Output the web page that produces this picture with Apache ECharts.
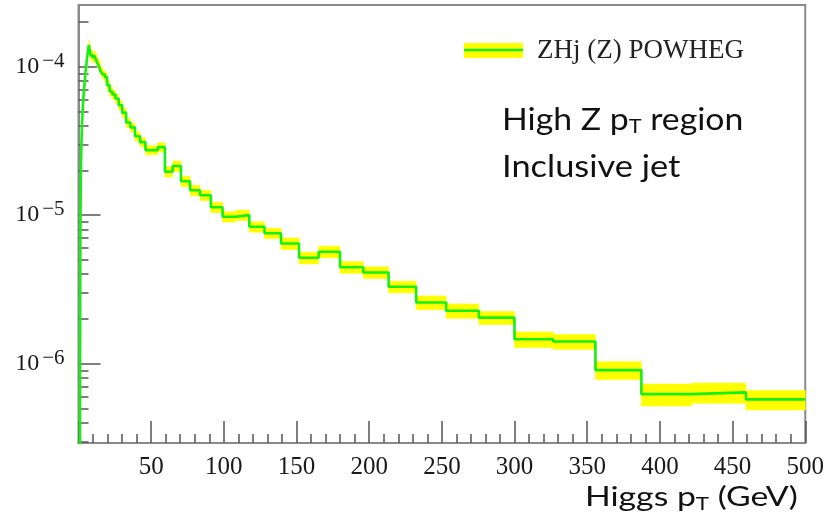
<!DOCTYPE html>
<html>
<head>
<meta charset="utf-8">
<script src="https://cdn.jsdelivr.net/npm/echarts@6/dist/echarts.min.js"></script>
<style>
  html, body { margin: 0; padding: 0; background: #ffffff; }
  #chart { width: 827px; height: 524px; }
</style>
</head>
<body>
<div id="chart"></div>
<script>
// Higgs pT bin edges (GeV), log-spaced
const binEdges = [1.00, 1.09, 1.18, 1.29, 1.40, 1.53, 1.66, 1.81, 1.97, 2.15,
  2.34, 2.55, 2.77, 3.02, 3.29, 3.58, 3.90, 4.24, 4.62, 5.03,
  5.48, 5.97, 6.50, 7.07, 7.70, 8.39, 9.13, 9.94, 10.83, 11.79,
  12.84, 13.98, 15.22, 16.57, 18.05, 19.65, 21.40, 23.30, 25.37, 27.63,
  30.08, 32.76, 35.67, 38.84, 42.29, 46.05, 50.14, 54.60, 59.46, 64.74,
  70.50, 76.77, 83.60, 91.03, 99.12, 107.93, 117.53, 127.98, 139.36, 151.75,
  165.24, 179.93, 195.92, 213.34, 232.31, 252.96, 275.45, 299.94, 326.60, 355.64,
  387.26, 421.69, 459.18, 500];

// ZHj (Z) POWHEG prediction per bin
const xsec = [2.6e-7, 9.0e-7, 2.6e-6, 6.0e-6, 1.0e-5, 1.45e-5, 1.9e-5, 2.4e-5, 2.9e-5, 3.4e-5,
  3.9e-5, 4.4e-5, 4.9e-5, 5.4e-5, 6.0e-5, 6.6e-5, 7.2e-5, 7.9e-5, 8.7e-5, 9.6e-5,
  1.05e-4, 1.16e-4, 1.28e-4, 1.40e-4, 1.30e-4, 1.18e-4, 1.20e-4, 1.14e-4, 1.19e-4, 1.13e-4,
  1.06e-4, 1.01e-4, 9.3e-5, 8.9e-5, 8.5e-5, 7.5e-5, 6.8e-5, 6.5e-5, 6.1e-5, 5.5e-5,
  4.9e-5, 4.2e-5, 3.9e-5, 3.4e-5, 3.1e-5, 2.74e-5, 2.74e-5, 2.87e-5, 1.96e-5, 2.14e-5,
  1.69e-5, 1.47e-5, 1.36e-5, 1.13e-5, 9.75e-6, 1.0e-5, 8.34e-6, 7.55e-6, 6.44e-6, 5.16e-6,
  5.66e-6, 4.46e-6, 4.11e-6, 3.29e-6, 2.58e-6, 2.27e-6, 2.04e-6, 1.46e-6, 1.41e-6, 9.04e-7,
  6.23e-7, 6.40e-7, 5.74e-7];

// relative half-width of the uncertainty band per bin
const relErr = [0.07, 0.07, 0.07, 0.07, 0.07, 0.07, 0.07, 0.07, 0.07, 0.07,
  0.07, 0.07, 0.07, 0.07, 0.07, 0.07, 0.07, 0.07, 0.07, 0.07,
  0.07, 0.07, 0.07, 0.07, 0.07, 0.07, 0.07, 0.07, 0.07, 0.07,
  0.07, 0.07, 0.07, 0.07, 0.07, 0.07, 0.07, 0.07, 0.07, 0.07,
  0.07, 0.07, 0.07, 0.07, 0.07, 0.07, 0.07, 0.07, 0.08, 0.08,
  0.08, 0.08, 0.08, 0.08, 0.08, 0.08, 0.08, 0.08, 0.09, 0.09,
  0.09, 0.09, 0.09, 0.09, 0.105, 0.11, 0.10, 0.12, 0.115, 0.137,
  0.168, 0.155, 0.15];

const yMajorTicks = [1e-6, 1e-5, 1e-4];
const yMinorTicks = [3e-7, 4e-7, 5e-7, 6e-7, 7e-7, 8e-7, 9e-7,
  2e-6, 3e-6, 4e-6, 5e-6, 6e-6, 7e-6, 8e-6, 9e-6,
  2e-5, 3e-5, 4e-5, 5e-5, 6e-5, 7e-5, 8e-5, 9e-5, 2e-4];

const seriesName = 'ZHj (Z) POWHEG';
const yMin = 2.92e-7, yMax = 2.6e-4;

// step outline: each bin's value held from its low edge to its high edge
const stepPoints = xsec.map((v, i) => [binEdges[i], v]);
stepPoints.push([binEdges[binEdges.length - 1], xsec[xsec.length - 1]]);

// band rectangles: [lowEdge, highEdge, lower, upper]
const bandData = xsec.map((v, i) => [binEdges[i], binEdges[i + 1], v * (1 - relErr[i]), v * (1 + relErr[i])]);

const GREEN = '#14f014';
const YELLOW = '#ffff00';
const TICK = '#555555';
const FRAME = '#8a8a8a';
const serif = '"Liberation Serif", "DejaVu Serif", serif';
const sans = 'Lato, "Open Sans", sans-serif';

function powerLabel(v) {
  const e = Math.round(Math.log10(v));
  return '{b|10}{s|' + String(e).replace('-', '\u2212') + '}';
}

const chart = echarts.init(document.getElementById('chart'), null, { renderer: 'canvas' });

chart.setOption({
  animation: false,
  backgroundColor: '#ffffff',
  grid: {
    left: 78.5, right: 21, top: 5, bottom: 81,
    show: true, borderColor: FRAME, borderWidth: 2, backgroundColor: 'transparent'
  },
  legend: {
    left: 464, top: 37, padding: 0,
    itemWidth: 59, itemHeight: 15,
    data: [{ name: seriesName, icon: 'rect', itemStyle: { color: YELLOW } }],
    textStyle: { fontFamily: serif, fontSize: 27, lineHeight: 15, color: '#222', padding: [2, 0, 0, 9] },
    selectedMode: false
  },
  xAxis: {
    type: 'value', min: 0, max: 500, interval: 50,
    axisLine: { show: true, onZero: false, lineStyle: { color: FRAME, width: 2 } },
    axisTick: { show: true, inside: true, length: 22, lineStyle: { color: TICK, width: 1.5 } },
    minorTick: { show: true, splitNumber: 5, length: 9, lineStyle: { color: TICK, width: 1.5 } },
    axisLabel: {
      margin: 12, fontFamily: serif, fontSize: 25, color: '#1a1a1a',
      formatter: v => (v === 0 ? '' : String(v))
    },
    splitLine: { show: false }
  },
  yAxis: [
    {
      type: 'log', logBase: 10, min: yMin, max: yMax,
      axisLine: { show: true, lineStyle: { color: FRAME, width: 2 } },
      axisTick: { show: true, inside: true, length: 22, customValues: yMajorTicks, lineStyle: { color: TICK, width: 1.5 } },
      axisLabel: {
        customValues: yMajorTicks, margin: 14, color: '#1a1a1a',
        formatter: powerLabel,
        rich: {
          b: { fontFamily: serif, fontSize: 24, color: '#1a1a1a' },
          s: { fontFamily: serif, fontSize: 21, color: '#1a1a1a', padding: [0, 0, 11, 3] }
        }
      },
      splitLine: { show: false }
    },
    {
      type: 'log', logBase: 10, min: yMin, max: yMax, position: 'left',
      axisLine: { show: false },
      axisTick: { show: true, inside: true, length: 10, customValues: yMinorTicks, lineStyle: { color: TICK, width: 1.5 } },
      axisLabel: { show: false },
      splitLine: { show: false }
    }
  ],
  series: [
    {
      name: seriesName,
      type: 'custom',
      yAxisIndex: 0,
      data: bandData,
      encode: { x: [0, 1], y: [2, 3] },
      renderItem: function (params, api) {
        const p0 = api.coord([api.value(0), api.value(3)]);
        const p1 = api.coord([api.value(1), api.value(2)]);
        const cs = params.coordSys;
        const shape = echarts.graphic.clipRectByRect(
          { x: p0[0], y: p0[1], width: p1[0] - p0[0], height: p1[1] - p0[1] },
          { x: cs.x, y: cs.y, width: cs.width, height: cs.height }
        );
        return shape && { type: 'rect', shape: shape, style: { fill: YELLOW, stroke: YELLOW, lineWidth: 0.6 } };
      },
      z: 2
    },
    {
      name: 'outline',
      type: 'line',
      yAxisIndex: 0,
      step: 'end',
      data: stepPoints,
      showSymbol: false,
      clip: true,
      lineStyle: { color: GREEN, width: 2.6 },
      z: 3
    }
  ],
  graphic: [
    {
      type: 'line', z: 100,
      shape: { x1: 464, y1: 50, x2: 523, y2: 50 },
      style: { stroke: GREEN, lineWidth: 2.5 }
    },
    {
      type: 'text', x: 502, y: 103, scaleX: 1.09, z: 100,
      style: {
        text: '{a|High Z p}{t|T}{a| region}',
        rich: {
          a: { fontFamily: sans, fontSize: 31, fill: '#111' },
          t: { fontFamily: sans, fontSize: 20, fill: '#111', padding: [14, 0, 0, 0] }
        }
      }
    },
    {
      type: 'text', x: 502, y: 151, scaleX: 1.11, z: 100,
      style: { text: 'Inclusive jet', font: '31px ' + sans, fill: '#111' }
    },
    {
      type: 'text', x: 585, y: 482, scaleX: 1.25, z: 100,
      style: {
        text: '{a|Higgs p}{t|T}{a| (GeV)}',
        rich: {
          a: { fontFamily: sans, fontSize: 27, fill: '#111' },
          t: { fontFamily: sans, fontSize: 18, fill: '#111', padding: [13, 0, 0, 0] }
        }
      }
    }
  ]
});
</script>
</body>
</html>
